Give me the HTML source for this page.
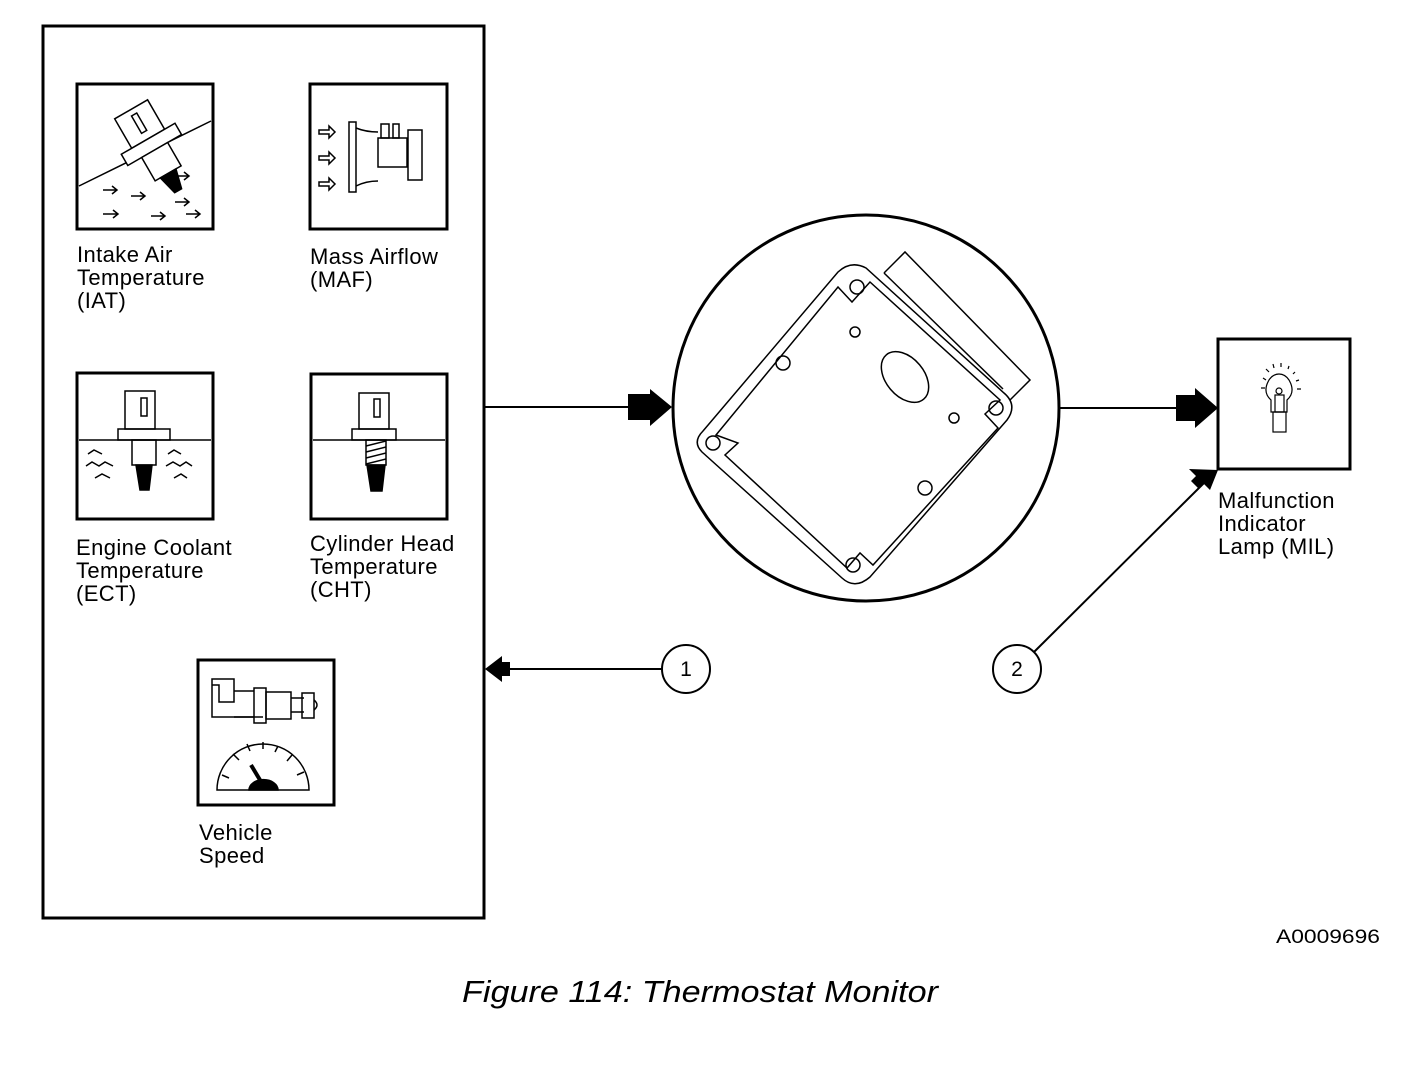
<!DOCTYPE html>
<html><head><meta charset="utf-8"><style>
html,body{margin:0;padding:0;background:#fff;}
svg{display:block;}
text{font-family:"Liberation Sans",sans-serif;fill:#000;}
</style></head><body>
<svg width="1408" height="1078" viewBox="0 0 1408 1078" xmlns="http://www.w3.org/2000/svg">
<g fill="none" stroke="#000">
<rect x="43" y="26" width="441" height="892" stroke-width="3"/>
<!-- IAT -->
<rect x="77" y="84" width="136" height="145" stroke-width="3"/>
<line x1="79" y1="186" x2="211" y2="121" stroke-width="1.5"/>
<g transform="rotate(-30 150 140)" stroke-width="1.5">
<rect x="130" y="104" width="38" height="34" fill="#fff"/>
<rect x="146" y="110" width="6" height="20"/>
<rect x="118" y="138" width="62" height="13" fill="#fff"/>
<rect x="134" y="151" width="30" height="27" fill="#fff"/>
<polygon points="140,178 158,178 153,198 145,198" fill="#000"/>
</g>
<g stroke-width="1.5">
<path d="M103 190h14M112 186l5 4-5 4M131 196h14M140 192l5 4-5 4M174 176h15M184 172l5 4-5 4M175 202h14M184 198l5 4-5 4M103 214h15M113 210l5 4-5 4M151 216h14M160 212l5 4-5 4M186 214h14M195 210l5 4-5 4"/>
</g>
<!-- MAF -->
<rect x="310" y="84" width="137" height="145" stroke-width="3"/>
<g stroke-width="1.5">
<rect x="349" y="122" width="7" height="70"/>
<path d="M356 128q10 4 22 4M356 186q10-5 22-5"/>
<rect x="378" y="138" width="29" height="29"/>
<rect x="381" y="124" width="8" height="14"/>
<rect x="393" y="124" width="6" height="14"/>
<rect x="408" y="130" width="14" height="50"/>
<path d="M319 130h10v-4l6 6-6 6v-4h-10zM319 156h10v-4l6 6-6 6v-4h-10zM319 182h10v-4l6 6-6 6v-4h-10z"/>
</g>
<!-- ECT -->
<rect x="77" y="373" width="136" height="146" stroke-width="3"/>
<g stroke-width="1.5">
<line x1="79" y1="440" x2="211" y2="440"/>
<rect x="125" y="391" width="30" height="38"/>
<rect x="141" y="398" width="6" height="18"/>
<rect x="118" y="429" width="52" height="11"/>
<rect x="132" y="440" width="24" height="25"/>
<polygon points="136,465 152,465 149,490 140,490" fill="#000"/>
<path d="M88 454l6-4 8 4M86 466l6-4 7 4 6-4 8 4M95 478l7-4 8 4M168 454l6-4 7 4M166 466l7-4 7 4 6-4 6 4M174 478l7-4 6 4"/>
</g>
<!-- CHT -->
<rect x="311" y="374" width="136" height="145" stroke-width="3"/>
<g stroke-width="1.5">
<line x1="313" y1="440" x2="445" y2="440"/>
<rect x="359" y="393" width="30" height="36"/>
<rect x="374" y="399" width="6" height="18"/>
<rect x="352" y="429" width="44" height="11"/>
<rect x="366" y="440" width="20" height="25"/>
<path d="M366 446l20-5M366 452l20-5M366 458l20-5M366 464l20-5"/>
<polygon points="367,465 385,465 382,491 371,491" fill="#000"/>
</g>
<!-- VSS -->
<rect x="198" y="660" width="136" height="145" stroke-width="3"/>
<g stroke-width="1.5">
<path d="M212 679h22v23h-15v-17h-7zM212 679v38h51"/>
<path d="M234 691h20M234 717h20"/>
<rect x="254" y="688" width="12" height="35"/>
<rect x="266" y="692" width="25" height="27"/>
<path d="M291 698h13M291 712h13"/>
<rect x="302" y="693" width="12" height="25"/>
<path d="M314 700q6 5 0 10"/>
<path d="M217 790a46 46 0 0 1 92 0z"/>
<path d="M222 775l7 3M233 754l6 6M247 744l3 7M263 742v7M278 746l-3 6M292 755l-5 6M304 772l-7 3"/>
<path d="M249 790a14 10 0 0 1 29 0z" fill="#000"/>
<path d="M251 765l12 20" stroke-width="4"/>
</g>
<!-- central circle -->
<circle cx="866" cy="408" r="193" stroke-width="3"/>
<g stroke-width="1.5">
<path d="M703 431 L838 272 Q851 260 866 268 L1004 393 Q1018 405 1007 420 L870 577 Q855 590 842 578 L702 452 Q692 442 703 431z"/>
<path d="M716 435 L838 287 L852 302 L870 282 L1000 400 L985 414 L998 428 L873 565 L860 553 L847 568 L725 455 L738 443z"/>
<path d="M884 273 L905 252 L1030 380 L1010 400"/>
<path d="M884 273 L1003 389"/>
<circle cx="857" cy="287" r="7"/><circle cx="783" cy="363" r="7"/>
<circle cx="713" cy="443" r="7"/><circle cx="853" cy="565" r="7"/>
<circle cx="925" cy="488" r="7"/><circle cx="996" cy="408" r="7"/>
<circle cx="855" cy="332" r="5"/><circle cx="954" cy="418" r="5"/>
<ellipse cx="905" cy="377" rx="19" ry="29" transform="rotate(-40 905 377)"/>
</g>
<!-- arrows -->
<line x1="484" y1="407" x2="632" y2="407" stroke-width="2"/>
<line x1="1060" y1="408" x2="1180" y2="408" stroke-width="2"/>
<!-- MIL -->
<rect x="1218" y="339" width="132" height="130" stroke-width="3"/>
<g stroke-width="1.2">
<path d="M1271 412v-12q-9-8-2-20 4-6 10-6 6 0 10 6 7 12-2 20v12z"/>
<rect x="1275" y="395" width="9" height="17"/>
<circle cx="1279" cy="391" r="3"/>
<rect x="1273" y="412" width="13" height="20"/>
<path d="M1263 378l3 2M1266 369l3 3M1273 364l1 4M1281 363v4M1289 366l-1 3M1295 372l-2 2M1299 380l-3 1M1261 388h4M1297 389h4"/>
</g>
<line x1="662" y1="669" x2="508" y2="669" stroke-width="2"/>
<circle cx="686" cy="669" r="24" stroke-width="2"/>
<line x1="1034" y1="652" x2="1205" y2="482" stroke-width="2"/>
<circle cx="1017" cy="669" r="24" stroke-width="2"/>
</g>
<g fill="#000">
<polygon points="628,394 650,394 650,389 672,407 650,426 650,420 628,420"/>
<polygon points="1176,395 1195,395 1195,388 1218,408 1195,428 1195,421 1176,421"/>
<polygon points="485,669 502,656 502,662 510,662 510,676 502,676 502,682"/>
<polygon points="1218,470 1210,490 1203,483 1198,488 1191,481 1196,476 1189,469"/>
</g>
<g font-size="22" letter-spacing="0.4">
<text x="77" y="262">Intake Air</text><text x="77" y="285">Temperature</text><text x="77" y="308">(IAT)</text>
<text x="310" y="264">Mass Airflow</text><text x="310" y="287">(MAF)</text>
<text x="76" y="555">Engine Coolant</text><text x="76" y="578">Temperature</text><text x="76" y="601">(ECT)</text>
<text x="310" y="551">Cylinder Head</text><text x="310" y="574">Temperature</text><text x="310" y="597">(CHT)</text>
<text x="199" y="840">Vehicle</text><text x="199" y="863">Speed</text>
<text x="1218" y="508">Malfunction</text><text x="1218" y="531">Indicator</text><text x="1218" y="554">Lamp (MIL)</text>
</g>
<g font-size="21">
<text x="686" y="676" text-anchor="middle">1</text>
<text x="1017" y="676" text-anchor="middle">2</text>
</g>
<text x="1276" y="943" font-size="19" textLength="104" lengthAdjust="spacingAndGlyphs">A0009696</text>
<text x="462" y="1002" font-size="31" font-style="italic" textLength="476" lengthAdjust="spacingAndGlyphs">Figure 114: Thermostat Monitor</text>
</svg>
</body></html>
